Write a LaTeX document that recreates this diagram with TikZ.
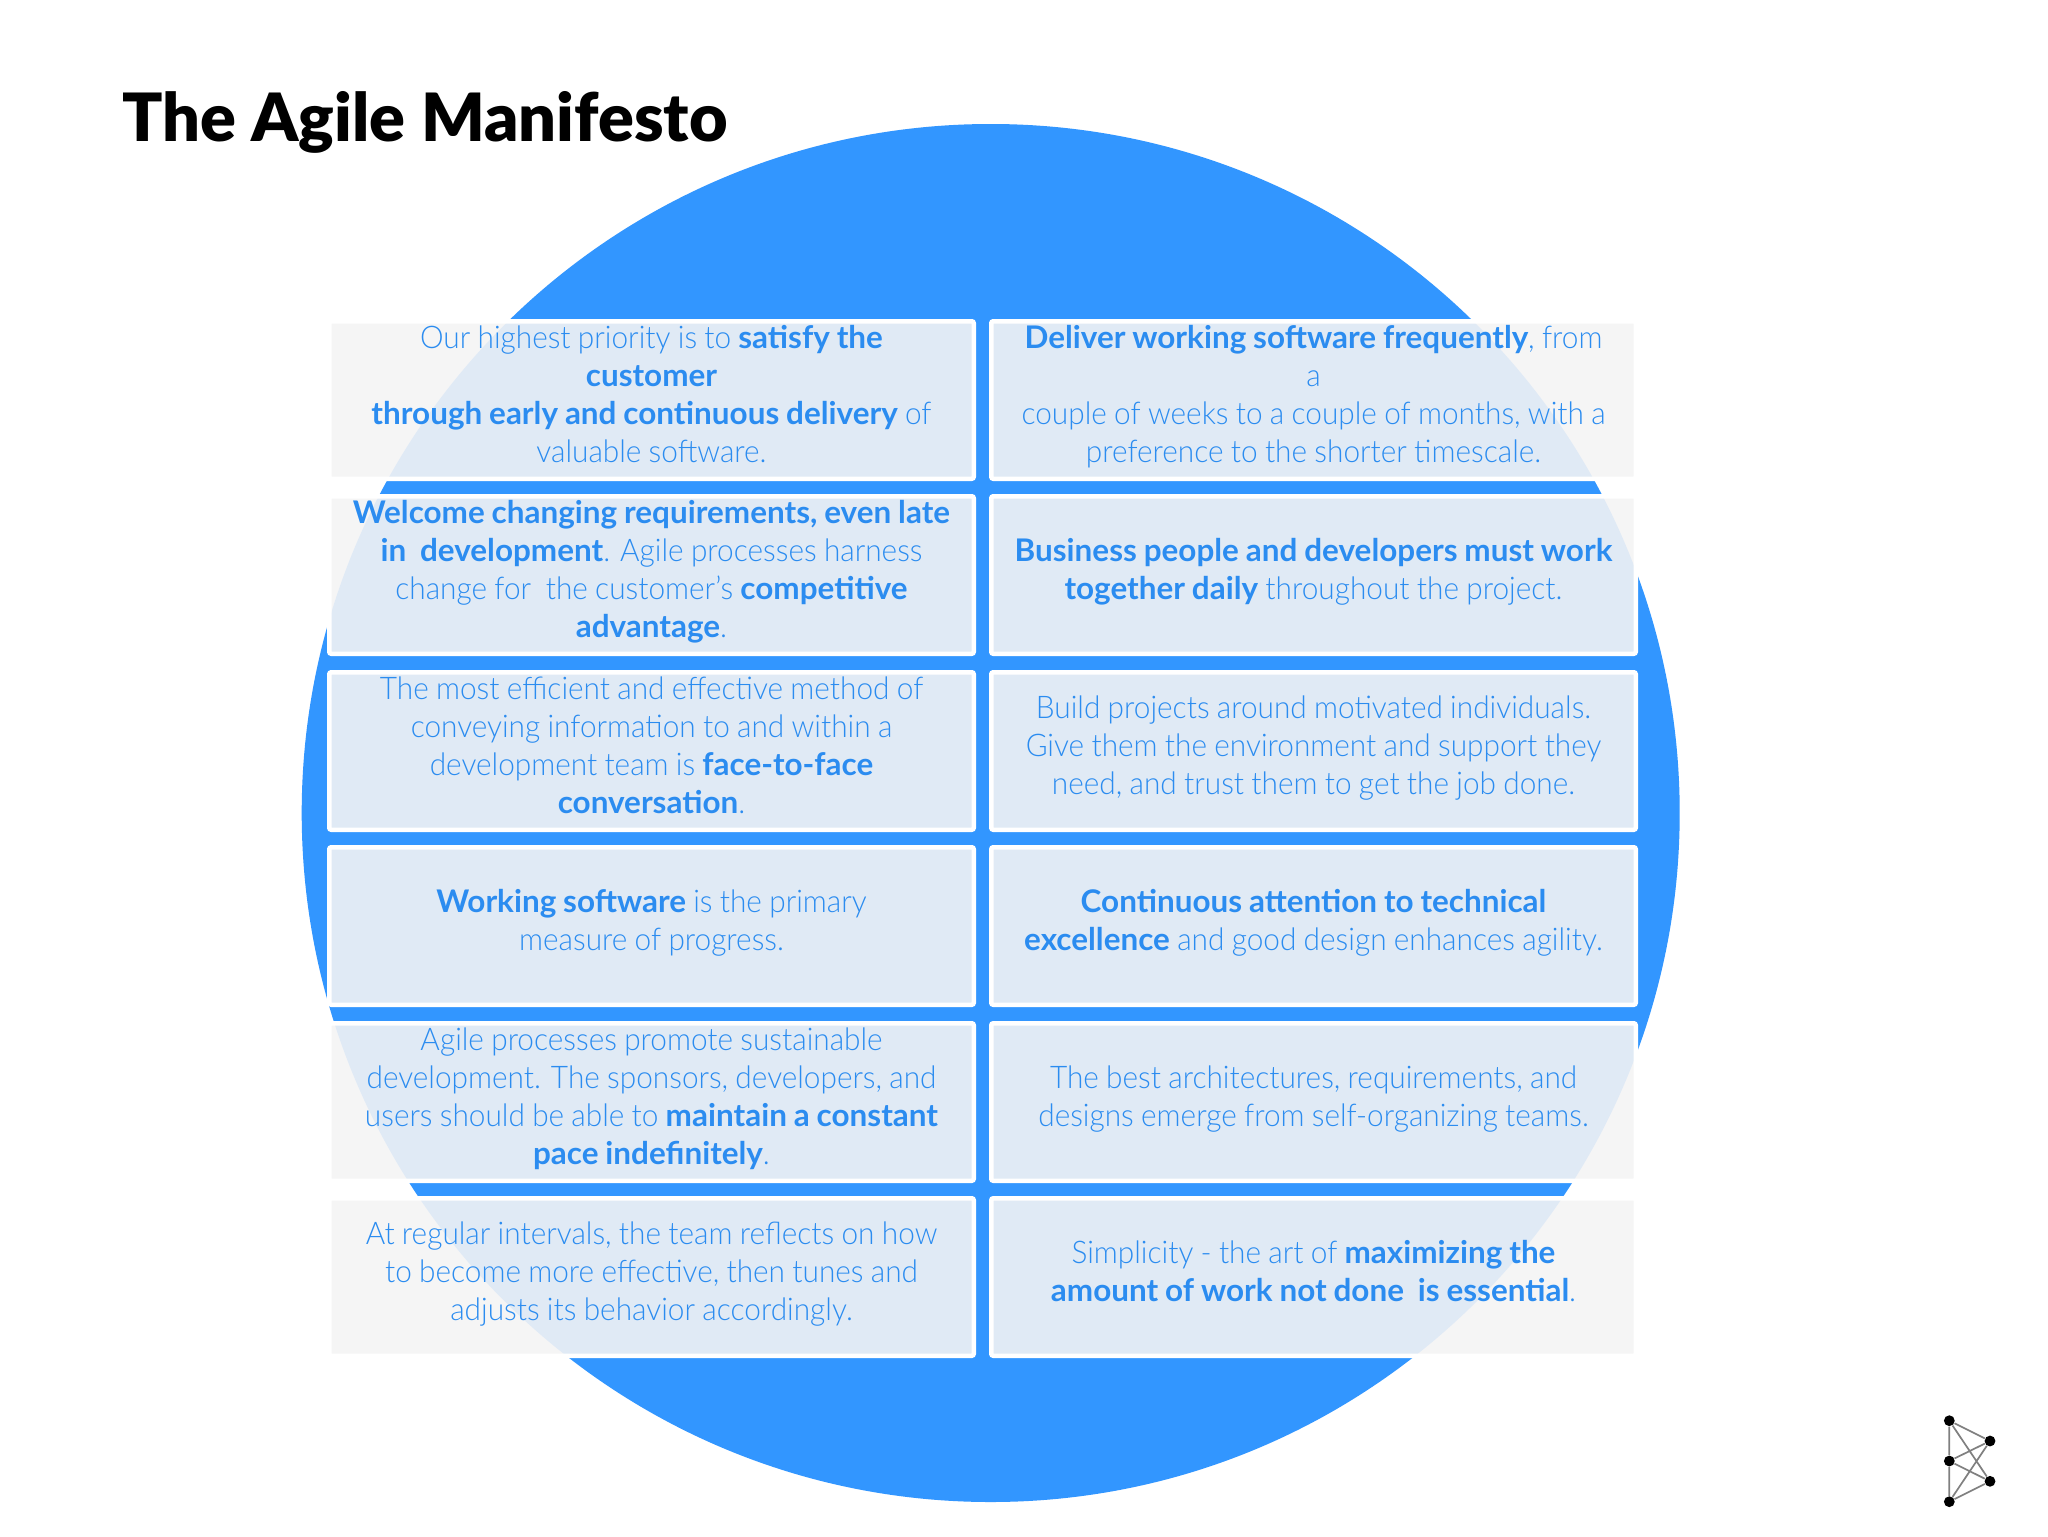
\documentclass[tikz,border=0pt]{standalone}
\usepackage{fontspec}
\setmainfont{Lato Light}[FakeStretch=0.955,WordSpace=0.9,BoldFont={Lato Bold},BoldFeatures={FakeStretch=1.008}]
\newfontfamily\titlefont{Lato Black}
\definecolor{agileblue}{HTML}{3296FF}
\definecolor{agiletext}{HTML}{2B8CF0}
\definecolor{panel}{HTML}{F4F4F4}
\definecolor{logoline}{HTML}{808080}
\tikzset{
  panelbox/.style={draw=white,line width=2.25pt,fill=panel,fill opacity=.9,draw opacity=1,text opacity=1,
    rounded corners=1pt,minimum width=322.25pt,minimum height=78.75pt,inner sep=0pt,align=center,
    text=agiletext,font=\fontsize{15.6}{19}\selectfont,
    execute at begin node=\strut,execute at end node=\strut},
  logodot/.style={circle,fill=black,minimum size=5.4pt,inner sep=0pt},
  logoedge/.style={draw=logoline,line width=.85pt}
}
\begin{document}
\begin{tikzpicture}[x=0.5pt,y=-0.5pt]
\useasboundingbox (0,0) rectangle (2048,1536);
\fill[white] (0,0) rectangle (2048,1536);
\node[circle,fill=agileblue,minimum size=689pt,inner sep=0pt] (disc) at (990.7,813) {};
\node[anchor=west,inner sep=0pt,font=\titlefont\fontsize{33.3}{38}\selectfont] (title) at (122,122) {The Agile Manifesto};

\node[panelbox] (a1) at (651.5,400) {Our highest priority is to \textbf{satisfy the}\\\textbf{customer}\\\textbf{through early and continuous delivery} of\\valuable software.};
\node[panelbox] (b1) at (1313.5,400) {\textbf{Deliver working software frequently}, from\\a\\couple of weeks to a couple of months, with a\\preference to the shorter timescale.};
\node[panelbox] (a2) at (651.5,575) {\textbf{Welcome changing requirements, even late}\\\textbf{in\ \ development}. Agile processes harness\\change for\ \ the customer's \textbf{competitive}\\\textbf{advantage}.};
\node[panelbox] (b2) at (1313.5,575) {\textbf{Business people and developers must work}\\\textbf{together daily} throughout the project.};
\node[panelbox] (a3) at (651.5,751) {The most efficient and effective method of\\conveying information to and within a\\development team is \textbf{face-to-face}\\\textbf{conversation}.};
\node[panelbox] (b3) at (1313.5,751) {Build projects around motivated individuals.\\Give them the environment and support they\\need, and trust them to get the job done.};
\node[panelbox] (a4) at (651.5,926) {\textbf{Working software} is the primary\\measure of progress.};
\node[panelbox] (b4) at (1313.5,926) {\textbf{Continuous attention to technical}\\\textbf{excellence} and good design enhances agility.};
\node[panelbox] (a5) at (651.5,1102) {Agile processes promote sustainable\\development. The sponsors, developers, and\\users should be able to \textbf{maintain a constant}\\\textbf{pace indefinitely}.};
\node[panelbox] (b5) at (1313.5,1102) {The best architectures, requirements, and\\designs emerge from self-organizing teams.};
\node[panelbox] (a6) at (651.5,1277) {At regular intervals, the team reflects on how\\to become more effective, then tunes and\\adjusts its behavior accordingly.};
\node[panelbox] (b6) at (1313.5,1277) {Simplicity - the art of \textbf{maximizing the}\\\textbf{amount of work not done\ \ is essential}.};

\node[logodot] (l1) at (1949.3,1420.7) {};
\node[logodot] (l2) at (1990,1441) {};
\node[logodot] (l3) at (1949.3,1461) {};
\node[logodot] (l4) at (1990,1481.3) {};
\node[logodot] (l5) at (1949.3,1501.7) {};
\draw[logoedge] (l1)--(l3) (l3)--(l5) (l1)--(l2) (l1)--(l4) (l3)--(l2) (l3)--(l4) (l5)--(l2) (l5)--(l4);
\end{tikzpicture}
\end{document}
